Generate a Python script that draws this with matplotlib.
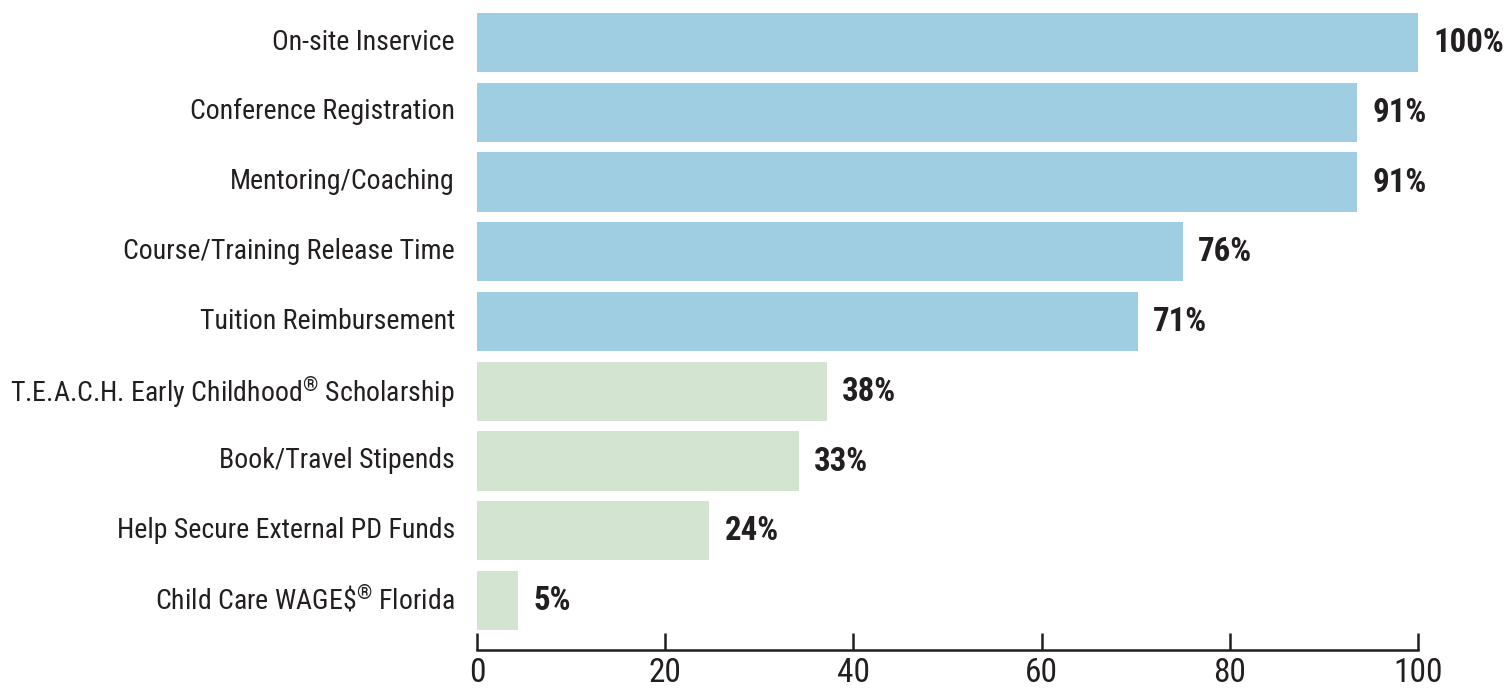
import matplotlib
matplotlib.use("Agg")
import matplotlib.pyplot as plt
import matplotlib.transforms as mtransforms
from matplotlib import font_manager

categories = [
    "On-site Inservice",
    "Conference Registration",
    "Mentoring/Coaching",
    "Course/Training Release Time",
    "Tuition Reimbursement",
    "T.E.A.C.H. Early Childhood$^{®}$ Scholarship",
    "Book/Travel Stipends",
    "Help Secure External PD Funds",
    "Child Care WAGE$\\$^{®}$ Florida",
]
# bar lengths as drawn in the picture
values = [100, 93.5, 93.5, 75.0, 70.2, 37.2, 34.2, 24.7, 4.4]
value_labels = ["100%", "91%", "91%", "76%", "71%", "38%", "33%", "24%", "5%"]
groups = ["blue"] * 5 + ["green"] * 4
xticks = [0, 20, 40, 60, 80, 100]

colors = {"blue": "#9fcde1", "green": "#d3e5d0"}
ink = "#231f20"

names = {f.name for f in font_manager.fontManager.ttflist}
fam = "Liberation Sans"
for cand in ["Roboto Condensed", "Liberation Sans Narrow", "DejaVu Sans Condensed"]:
    if cand in names:
        fam = cand
        break
plt.rcParams["font.family"] = [fam, "DejaVu Sans"]
plt.rcParams["mathtext.fontset"] = "custom"
plt.rcParams["mathtext.rm"] = fam
plt.rcParams["mathtext.it"] = fam
plt.rcParams["mathtext.default"] = "rm"

fig = plt.figure(figsize=(15.09, 6.9), dpi=100)
ax = fig.add_axes([477 / 1509, 1 - 650 / 690, (1418 - 477) / 1509, (650 - 12.9) / 690])

ypos = list(range(len(categories)))
ax.barh(ypos, values, height=0.85, color=[colors[g] for g in groups], left=0)

vtexts = []
for y, v, lab in zip(ypos, values, value_labels):
    t = ax.annotate(lab, (v, y), xytext=(11, -0.5), textcoords="offset points",
                    va="center", ha="left", fontsize=25, fontweight="bold", color=ink)
    vtexts.append(t)

ax.set_ylim(8.71, -0.425)
ax.set_xlim(0, 100)
ax.set_yticks(ypos)
ax.set_yticklabels(categories, color=ink)
ax.tick_params(axis="y", length=0, pad=16, labelsize=21)
ax.set_xticks(xticks)
ax.set_xticklabels([str(t) for t in xticks], color=ink)
ax.tick_params(axis="x", direction="in", length=12, width=1.8, color=ink,
               pad=5, labelsize=24, labelcolor=ink)

for s in ["top", "right", "left"]:
    ax.spines[s].set_visible(False)
ax.spines["bottom"].set_linewidth(1.8)
ax.spines["bottom"].set_color(ink)
ax.set_facecolor("none")

# fit the font sizes to the widths seen in the reference (narrow typeface)
fig.canvas.draw()
r = fig.canvas.get_renderer()
widest = max(t.get_window_extent(r).width for t in ax.get_yticklabels())
ax.tick_params(axis="y", labelsize=min(24, 21 * 445 / widest))
w100 = vtexts[0].get_window_extent(r).width
for t in vtexts:
    t.set_fontsize(min(27, 25 * 71 / w100))

# category labels sit a little above the bar centres
lift = mtransforms.ScaledTranslation(0, 3.5 / 100, fig.dpi_scale_trans)
for lab in ax.get_yticklabels():
    lab.set_transform(lab.get_transform() + lift)

fig.savefig("out.png", dpi=100)
